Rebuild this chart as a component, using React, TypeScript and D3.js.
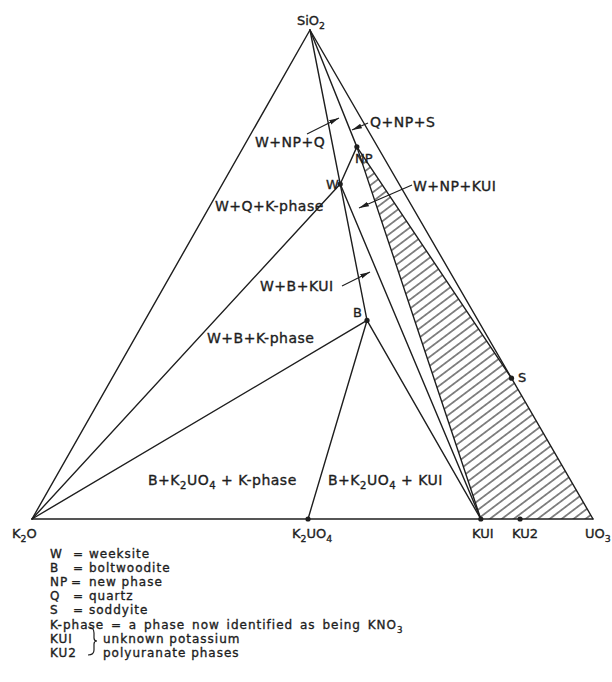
import React from "react";
import * as d3 from "d3";

// ternary compositions, mole fractions [K2O, UO3, SiO2]
const vertexNames = ["K2O", "UO3", "SiO2"];
const vertexK2O = [1, 0, 0];
const vertexUO3 = [0, 1, 0];
const vertexSiO2 = [0, 0, 1];

const phaseNames = ["W", "B", "NP", "S", "K2UO4", "KUI", "KU2"];
const phaseK2O = [0.105, 0.198, 0.037, 0, 0.508, 0.2, 0.13];
const phaseUO3 = [0.21, 0.396, 0.202, 0.712, 0.492, 0.8, 0.87];
const phaseSiO2 = [0.685, 0.406, 0.761, 0.288, 0, 0, 0];

// tie lines between phases
const tieFrom = ["K2O", "UO3", "SiO2", "SiO2", "SiO2", "K2O", "K2O", "W", "B", "B", "W", "NP", "NP"];
const tieTo = ["UO3", "SiO2", "K2O", "B", "NP", "W", "B", "NP", "K2UO4", "KUI", "KUI", "KUI", "S"];

// hatched single phase field
const hatchField = ["NP", "KUI", "UO3", "S"];

const dotted = ["W", "B", "NP", "S", "K2UO4", "KUI", "KU2"];

const legendKeys = ["W", "B", "NP", "Q", "S"];
const legendText = ["weeksite", "boltwoodite", "new phase", "quartz", "soddyite"];

const FONT = "'DejaVu Sans', sans-serif";
const INK = "#1e1e1e";

const x = d3.scaleLinear().domain([0, 1]).range([32, 593]);
const y = d3.scaleLinear().domain([0, 1]).range([519, 30]);
const APEX = 0.4955;

const comp: Record<string, [number, number, number]> = {};
vertexNames.forEach((n, i) => (comp[n] = [vertexK2O[i], vertexUO3[i], vertexSiO2[i]]));
phaseNames.forEach((n, i) => (comp[n] = [phaseK2O[i], phaseUO3[i], phaseSiO2[i]]));

const pt = (name: string): [number, number] => {
  const [, b, c] = comp[name];
  return [x(b + c * APEX), y(c)];
};

// text with subscripts: parts alternate [normal, sub, normal, ...]
function Chem({ parts, size = 14, ...rest }: any) {
  return (
    <text fontSize={size} {...rest}>
      {parts.map((p: string, i: number) =>
        i % 2 === 1 ? (
          <tspan key={i} fontSize={size * 0.72} dy={4}>{p}</tspan>
        ) : (
          <tspan key={i} dy={i === 0 ? 0 : -4}>{p}</tspan>
        )
      )}
    </text>
  );
}

const regionLabels = [
  { parts: ["W+NP+Q"], x: 255, y: 147 },
  { parts: ["Q+NP+S"], x: 370, y: 127 },
  { parts: ["W+NP+KUI"], x: 413, y: 191 },
  { parts: ["W+Q+K-phase"], x: 215, y: 211 },
  { parts: ["W+B+KUI"], x: 260, y: 291 },
  { parts: ["W+B+K-phase"], x: 207, y: 343 },
  { parts: ["B+K", "2", "UO", "4", " + K-phase"], x: 148, y: 485 },
  { parts: ["B+K", "2", "UO", "4", " + KUI"], x: 328, y: 485 },
];

const arrows = [
  [307, 134, 339, 118],
  [368, 123, 352, 130],
  [412, 185, 359, 208],
  [342, 286, 370, 272],
];

const LEG_Y = 558;
const LEG_DY = 14.1;

export default function App() {
  const hatchPts = hatchField.map(pt);
  const line = d3.line();

  const brace = d3.path();
  brace.moveTo(88, 627);
  brace.quadraticCurveTo(94, 627, 94, 633);
  brace.lineTo(94, 638);
  brace.quadraticCurveTo(94, 641, 97, 641);
  brace.quadraticCurveTo(94, 641, 94, 644);
  brace.lineTo(94, 650);
  brace.quadraticCurveTo(94, 655, 88, 655);

  return (
    <svg
      width={612}
      height={682}
      style={{ position: "absolute", left: 0, top: 0, background: "#fff" }}
      fontFamily={FONT}
      fill={INK}
    >
      <defs>
        <pattern
          id="hatch"
          patternUnits="userSpaceOnUse"
          width={20}
          height={7.2}
          patternTransform="rotate(-37)"
        >
          <line x1={0} x2={20} y1={3.6} y2={3.6} stroke="#2a2a2a" strokeWidth={1.1} />
        </pattern>
        <marker
          id="arr"
          markerUnits="userSpaceOnUse"
          markerWidth={10}
          markerHeight={6}
          refX={10}
          refY={3}
          orient="auto"
        >
          <path d="M0,0.6 L10,3 L0,5.4 Z" fill={INK} />
        </marker>
      </defs>

      <path d={line(hatchPts) + "Z"} fill="url(#hatch)" stroke="none" />

      <g stroke={INK} strokeWidth={1.4} fill="none" strokeLinecap="round">
        {tieFrom.map((f, i) => {
          const [x1, y1] = pt(f);
          const [x2, y2] = pt(tieTo[i]);
          return <line key={i} x1={x1} y1={y1} x2={x2} y2={y2} />;
        })}
      </g>

      {dotted.map((n) => {
        const [cx, cy] = pt(n);
        return <circle key={n} cx={cx} cy={cy} r={2.6} fill={INK} />;
      })}

      <g stroke={INK} strokeWidth={0.35}>
        {/* vertex and phase labels */}
        <Chem parts={["SiO", "2"]} size={13} x={311} y={25} textAnchor="middle" />
        <Chem parts={["K", "2", "O"]} size={13} x={12} y={538} />
        <Chem parts={["K", "2", "UO", "4"]} size={13} x={292} y={538} />
        <Chem parts={["KUI"]} size={13} x={472} y={538} />
        <Chem parts={["KU2"]} size={13} x={512} y={538} />
        <Chem parts={["UO", "3"]} size={13} x={585} y={538} />
        <text fontSize={13} x={355} y={163}>NP</text>
        <text fontSize={13} x={326} y={189}>W</text>
        <text fontSize={13} x={353} y={317}>B</text>
        <text fontSize={13} x={518} y={382}>S</text>

        {regionLabels.map((l, i) => (
          <Chem key={i} parts={l.parts} size={14} x={l.x} y={l.y} letterSpacing={0.5} />
        ))}

        {/* legend */}
        <g fontSize={12} letterSpacing={1}>
          {legendKeys.map((k, i) => (
            <g key={k}>
              <text x={50} y={LEG_Y + i * LEG_DY}>{k}</text>
              <text x={k === "NP" ? 71 : 73} y={LEG_Y + i * LEG_DY}>=</text>
              <text x={89} y={LEG_Y + i * LEG_DY}>{legendText[i]}</text>
            </g>
          ))}
          <Chem
            parts={["K-phase = a phase now identified as being KNO", "3"]}
            size={12}
            x={50}
            y={LEG_Y + 5 * LEG_DY}
            letterSpacing={1}
            wordSpacing={2}
          />
          <text x={50} y={LEG_Y + 6 * LEG_DY}>KUI</text>
          <text x={50} y={LEG_Y + 7 * LEG_DY}>KU2</text>
          <text x={103} y={LEG_Y + 6 * LEG_DY}>unknown potassium</text>
          <text x={103} y={LEG_Y + 7 * LEG_DY}>polyuranate phases</text>
        </g>
      </g>

      <g stroke={INK} strokeWidth={1.2}>
        {arrows.map((a, i) => (
          <line key={i} x1={a[0]} y1={a[1]} x2={a[2]} y2={a[3]} markerEnd="url(#arr)" />
        ))}
      </g>
      <path d={brace.toString()} stroke={INK} strokeWidth={1.2} fill="none" />
    </svg>
  );
}
